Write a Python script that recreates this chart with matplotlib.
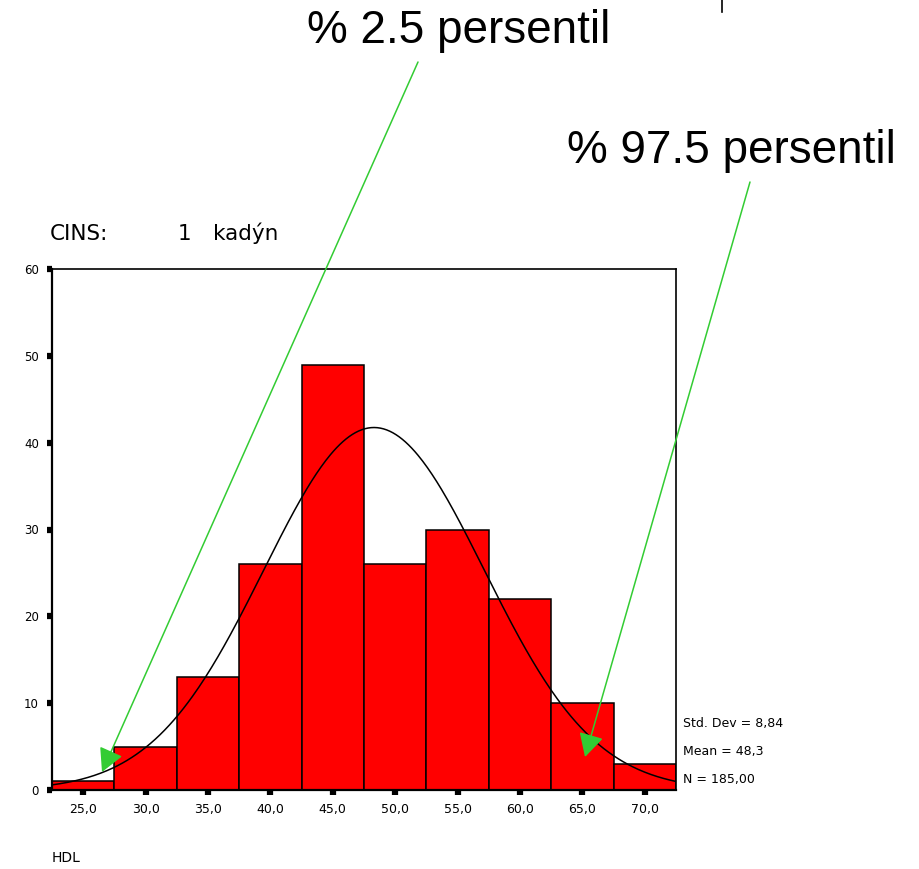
import numpy as np
import matplotlib
matplotlib.use("Agg")
import matplotlib.pyplot as plt
from matplotlib.patches import FancyArrowPatch
from matplotlib.lines import Line2D

# HDL histogram for CINS = 1 (kadýn)
bin_edges = [22.5, 27.5, 32.5, 37.5, 42.5, 47.5, 52.5, 57.5, 62.5, 67.5, 72.5]
counts = [1, 5, 13, 26, 49, 26, 30, 22, 10, 3]
x_ticks = [25, 30, 35, 40, 45, 50, 55, 60, 65, 70]
x_tick_labels = ["25,0", "30,0", "35,0", "40,0", "45,0", "50,0", "55,0", "60,0", "65,0", "70,0"]
y_ticks = [0, 10, 20, 30, 40, 50, 60]
std_dev = 8.84
mean = 48.3
n_total = 185

W, H = 920, 869
fig = plt.figure(figsize=(W / 100, H / 100), dpi=100)


def fx(x):
    return x / W


def fy(y):
    return 1 - y / H


def comma(v, digits):
    return f"{v:.{digits}f}".replace(".", ",")


ax = fig.add_axes([fx(52), fy(790), fx(676) - fx(52), fy(269) - fy(790)])

widths = np.diff(bin_edges)
ax.bar(bin_edges[:-1], counts, width=widths, align="edge",
       color="#ff0000", edgecolor="black", linewidth=1.1, zorder=2)

# Fitted normal curve scaled to counts per bin
xs = np.linspace(bin_edges[0], bin_edges[-1], 400)
bw = widths[0]
pdf = np.exp(-0.5 * ((xs - mean) / std_dev) ** 2) / (std_dev * np.sqrt(2 * np.pi))
ax.plot(xs, n_total * bw * pdf, color="black", linewidth=1.1, zorder=3)

ax.set_xlim(bin_edges[0], bin_edges[-1])
ax.set_ylim(0, 60)
ax.set_xticks(x_ticks)
ax.set_xticklabels(x_tick_labels, fontsize=9, family="DejaVu Sans")
ax.set_yticks(y_ticks)
ax.set_yticklabels([str(v) for v in y_ticks], fontsize=8.5, family="DejaVu Sans")
ax.tick_params(axis="both", direction="out", length=3.5, width=4.5, color="black")
ax.tick_params(axis="x", pad=6)
ax.tick_params(axis="y", pad=6)
for side in ["left", "bottom"]:
    ax.spines[side].set_linewidth(1.6)
for side in ["top", "right"]:
    ax.spines[side].set_linewidth(1.2)

# Title line
fig.text(fx(50), fy(240), "CINS:", fontsize=15.5, family="DejaVu Sans", va="baseline", ha="left")
fig.text(fx(178), fy(240), "1", fontsize=15.5, family="DejaVu Sans", va="baseline", ha="left")
fig.text(fx(213), fy(240), "kadýn", fontsize=15.5, family="DejaVu Sans", va="baseline", ha="left")

# Statistics beside the plot
fig.text(fx(683), fy(724), "Std. Dev = " + comma(std_dev, 2),
         fontsize=9, family="DejaVu Sans", va="center", ha="left")
fig.text(fx(683), fy(752), "Mean = " + comma(mean, 1),
         fontsize=9, family="DejaVu Sans", va="center", ha="left")
fig.text(fx(683), fy(779), "N = " + comma(n_total, 2),
         fontsize=9, family="DejaVu Sans", va="center", ha="left")

fig.text(fx(52), fy(862), "HDL", fontsize=10, family="DejaVu Sans", va="baseline", ha="left")

# Percentile annotations
green = "#33cc33"
fig.text(fx(459), fy(43), "% 2.5 persentil", fontsize=33, family="Liberation Sans",
         ha="center", va="baseline")
fig.text(fx(731), fy(163), "% 97.5 persentil", fontsize=33, family="Liberation Sans",
         ha="center", va="baseline")

arrow_kw = dict(arrowstyle="-|>,head_length=0.6,head_width=0.32", color=green,
                lw=1.1, mutation_scale=24, shrinkA=0, shrinkB=0)
fig.add_artist(FancyArrowPatch(
    (fx(418), fy(62)), (fx(102), fy(772)), transform=fig.transFigure, **arrow_kw))
fig.add_artist(FancyArrowPatch(
    (fx(750), fy(182)), (fx(585), fy(757)), transform=fig.transFigure, **arrow_kw))

# Small vertical mark at the top edge
fig.add_artist(Line2D([fx(722), fx(722)], [fy(0), fy(12)],
                      transform=fig.transFigure, color="black", lw=1.2))

fig.savefig("out.png", dpi=100)
